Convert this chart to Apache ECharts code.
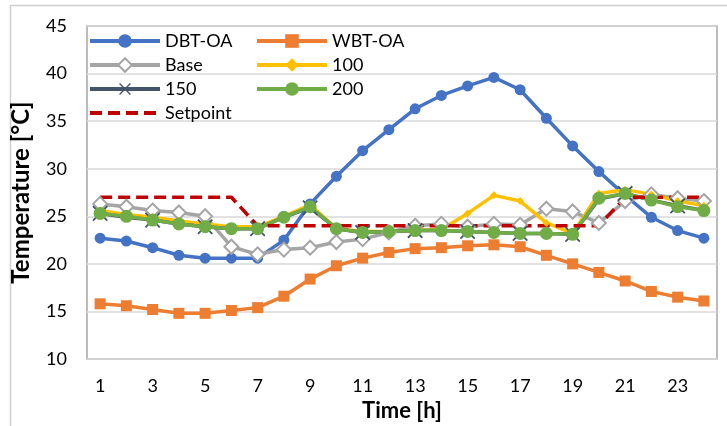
<!DOCTYPE html>
<html>
<head>
<meta charset="utf-8">
<script src="https://cdn.jsdelivr.net/npm/echarts@6/dist/echarts.min.js"></script>
<style>
html,body{margin:0;padding:0;background:#fff;}
#chart{width:727px;height:426px;}
</style>
</head>
<body>
<div id="chart"></div>
<script>
var hours = ['1','2','3','4','5','6','7','8','9','10','11','12','13','14','15','16','17','18','19','20','21','22','23','24'];
var dbtOA    = [22.7,22.4,21.7,20.9,20.6,20.6,20.6,22.5,26.3,29.2,31.9,34.1,36.3,37.7,38.7,39.6,38.3,35.3,32.4,29.7,27.2,24.9,23.5,22.7];
var wbtOA    = [15.8,15.6,15.2,14.8,14.8,15.1,15.4,16.6,18.4,19.8,20.6,21.2,21.6,21.7,21.9,22.0,21.8,20.9,20.0,19.1,18.2,17.1,16.5,16.1];
var base     = [26.3,26.0,25.6,25.4,25.0,21.8,21.0,21.5,21.7,22.3,22.6,23.3,24.0,24.2,23.9,24.2,24.1,25.8,25.5,24.3,26.6,27.3,26.9,26.6];
var s100     = [25.6,25.2,24.9,24.5,24.2,23.9,23.9,25.0,26.2,23.7,23.4,23.4,23.5,23.6,25.3,27.2,26.6,24.3,23.2,27.4,27.8,27.3,26.6,26.1];
var s150     = [25.3,24.9,24.6,24.2,23.9,23.7,23.7,24.9,25.9,23.7,23.3,23.4,23.5,23.5,23.4,23.3,23.2,23.2,23.1,26.8,27.4,26.7,26.1,25.6];
var s200     = [25.3,25.0,24.6,24.2,23.9,23.7,23.7,24.9,26.0,23.7,23.3,23.4,23.5,23.5,23.4,23.3,23.2,23.2,23.1,26.9,27.4,26.7,26.0,25.6];
var setpoint = [27,27,27,27,27,27,24,24,24,24,24,24,24,24,24,24,24,24,24,24,27,27,27,27];
var yTicks = {min:10, max:45, interval:5};

var FONT = 'Lato';
function lineSeries(name, data, color, symbol, size, extra) {
  var s = {
    name: name, type: 'line', data: data,
    symbol: symbol, symbolSize: size, showSymbol: symbol !== 'none',
    lineStyle: {color: color, width: 3.5},
    itemStyle: {color: color},
    emphasis: {disabled: true},
    animation: false
  };
  if (extra) { for (var k in extra) s[k] = extra[k]; }
  return s;
}

var chart = echarts.init(document.getElementById('chart'), null, {renderer:'canvas'});
var legendText = {fontFamily: FONT, fontSize: 18, color: '#000'};
var legendCommon = {orient: 'vertical', top: 32, padding: 0, itemWidth: 70, itemHeight: 17, itemGap: 6,
  textStyle: legendText, selectedMode: false, lineStyle: {width: 4}};
chart.setOption({
  backgroundColor: '#fff',
  textStyle: {fontFamily: FONT},
  grid: {left: 87, right: 10, top: 26, bottom: 67, show: true, borderColor: '#A6A6A6', borderWidth: 1.5,
         containLabel: false, outerBoundsMode: 'none'},
  legend: [
    Object.assign({data: ['DBT-OA','Base','150',{name:'Setpoint', itemStyle: {opacity: 0}}], left: 88}, legendCommon),
    Object.assign({data: ['WBT-OA','100','200'], left: 255}, legendCommon)
  ],
  xAxis: {
    type: 'category', data: hours, boundaryGap: true,
    axisLine: {show: false}, axisTick: {show: false},
    axisLabel: {interval: 1, fontFamily: FONT, fontSize: 18, color: '#000', margin: 18},
    name: 'Time [h]', nameLocation: 'middle', nameGap: 41,
    nameTextStyle: {fontFamily: FONT, fontSize: 22, fontWeight: 'bold', color: '#000'}
  },
  yAxis: {
    type: 'value', min: yTicks.min, max: yTicks.max, interval: yTicks.interval,
    axisLine: {show: false}, axisTick: {show: false},
    splitLine: {lineStyle: {color: '#D9D9D9', width: 1.5}},
    axisLabel: {fontFamily: FONT, fontSize: 18, color: '#000', margin: 20},
    name: 'Temperature [°C]', nameLocation: 'middle', nameGap: 54, nameRotate: 90,
    nameTextStyle: {fontFamily: FONT, fontSize: 24, fontWeight: 'bold', color: '#000'}
  },
  graphic: [
    {type: 'line', shape: {x1: 10.5, y1: 5, x2: 10.5, y2: 426}, style: {stroke: '#D0D0D0', lineWidth: 1.5}, silent: true},
    {type: 'line', shape: {x1: 10, y1: 5.5, x2: 727, y2: 5.5}, style: {stroke: '#D0D0D0', lineWidth: 1.5}, silent: true}
  ],
  series: [
    lineSeries('DBT-OA', dbtOA, '#4472C4', 'circle', 11),
    lineSeries('WBT-OA', wbtOA, '#ED7D31', 'rect', 11),
    lineSeries('Base', base, '#A5A5A5', 'diamond', 14, {itemStyle: {color: '#fff', borderColor: '#A5A5A5', borderWidth: 2}}),
    lineSeries('100', s100, '#FFC000', 'diamond', 8),
    lineSeries('150', s150, '#44546A', 'image://data:image/svg+xml;utf8,' + encodeURIComponent('<svg xmlns="http://www.w3.org/2000/svg" width="20" height="20"><path d="M2 2L18 18M18 2L2 18" stroke="#44546A" stroke-width="2"/></svg>'), 18),
    lineSeries('200', s200, '#70AD47', 'circle', 13),
    lineSeries('Setpoint', setpoint, '#C00000', 'none', 0, {lineStyle: {color: '#C00000', width: 3.5, type: [12, 6]}})
  ]
});
</script>
</body>
</html>
